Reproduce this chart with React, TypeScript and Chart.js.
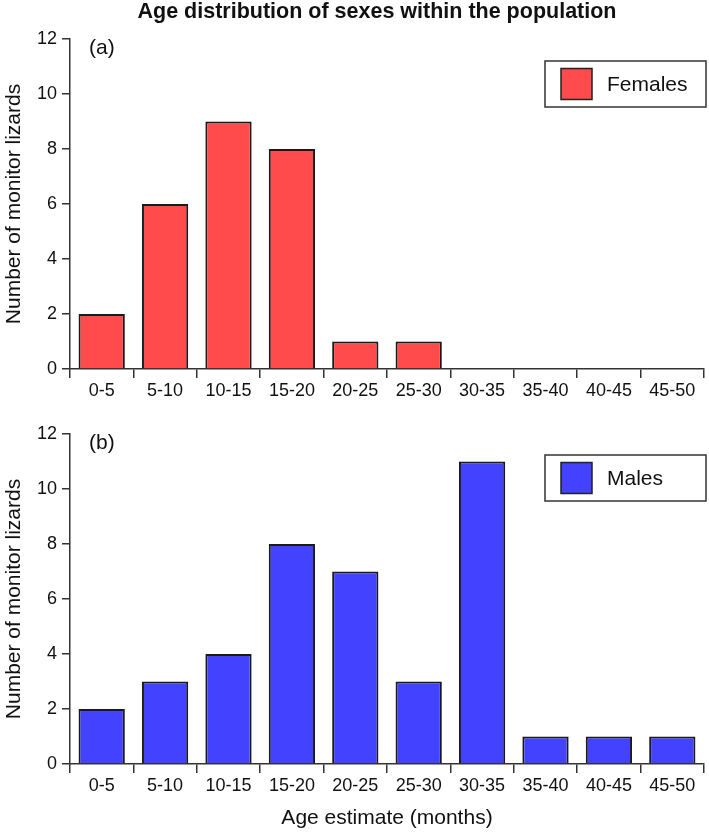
import React, { useEffect, useRef } from "react";
import { Chart, registerables } from "chart.js";

Chart.register(...registerables);

const categories = ["0-5", "5-10", "10-15", "15-20", "20-25", "25-30", "30-35", "35-40", "40-45", "45-50"];
const females = [2, 6, 9, 8, 1, 1, 0, 0, 0, 0];
const males = [2, 3, 4, 8, 7, 3, 11, 1, 1, 1];
const yTicks = [0, 2, 4, 6, 8, 10, 12];
const mainTitle = "Age distribution of sexes within the population";
const yTitle = "Number of monitor lizards";
const xTitle = "Age estimate (months)";

const FONT = "'Liberation Sans', Arial, Helvetica, sans-serif";
const AXIS = "#333";

const overlayPlugin = {
  id: "overlay",
  afterDraw(chart: any, _args: any, opts: any) {
    const { ctx, chartArea } = chart;
    ctx.save();
    // panel label
    ctx.fillStyle = "#111";
    ctx.font = `21px ${FONT}`;
    ctx.textBaseline = "middle";
    ctx.textAlign = "left";
    ctx.fillText(opts.panel, chartArea.left + 19, chartArea.top + opts.panelDy);
    // legend
    const ds = chart.data.datasets[0];
    const bw = 161, bh = 46;
    const bx = chartArea.right + 2 - bw;
    const by = chartArea.top + opts.legendDy;
    ctx.fillStyle = "#fff";
    ctx.fillRect(bx, by, bw, bh);
    ctx.strokeStyle = AXIS;
    ctx.lineWidth = 1.5;
    ctx.strokeRect(bx, by, bw, bh);
    ctx.fillStyle = ds.backgroundColor;
    ctx.fillRect(bx + 16, by + 7.5, 31, 31);
    ctx.strokeStyle = "#222";
    ctx.lineWidth = 1.5;
    ctx.strokeRect(bx + 16, by + 7.5, 31, 31);
    ctx.fillStyle = "#111";
    ctx.font = `21px ${FONT}`;
    ctx.fillText(ds.label, bx + 62, by + bh / 2 + 1);
    // main title
    if (opts.title) {
      ctx.font = `bold 21.5px ${FONT}`;
      ctx.textAlign = "center";
      ctx.fillText(opts.title, 377, 12.5);
    }
    ctx.restore();
  },
};

function makeConfig(data: number[], label: string, color: string, opts: any): any {
  return {
    type: "bar",
    data: {
      labels: categories,
      datasets: [
        {
          label,
          data,
          backgroundColor: color,
          borderColor: "#1a1a1a",
          borderWidth: 2,
          barPercentage: 0.73,
          categoryPercentage: 1,
        },
      ],
    },
    plugins: [overlayPlugin],
    options: {
      responsive: false,
      animation: false,
      devicePixelRatio: 1,
      layout: { padding: { top: opts.padTop, right: 5, left: 0, bottom: 0 } },
      plugins: {
        legend: { display: false },
        tooltip: { enabled: false },
        title: { display: false },
        overlay: { panel: opts.panel, panelDy: opts.panelDy, legendDy: opts.legendDy, title: opts.title },
      },
      scales: {
        x: {
          type: "category",
          offset: true,
          grid: {
            offset: true,
            drawOnChartArea: false,
            drawTicks: true,
            tickLength: 9,
            color: AXIS,
            lineWidth: 1.5,
          },
          border: { display: true, color: AXIS, width: 1.5 },
          ticks: { color: "#111", font: { family: FONT, size: 18 }, padding: 2, maxRotation: 0, autoSkip: false },
          title: {
            display: !!opts.xTitle,
            text: opts.xTitle || "",
            color: "#111",
            font: { family: FONT, size: 21 },
            padding: { top: 0, bottom: 1 },
          },
          afterFit: (s: any) => {
            s.height = opts.xHeight;
          },
        },
        y: {
          min: 0,
          max: 12,
          afterBuildTicks: (s: any) => {
            s.ticks = yTicks.map((v) => ({ value: v }));
          },
          grid: {
            drawOnChartArea: false,
            drawTicks: true,
            tickLength: 8,
            color: AXIS,
            lineWidth: 1.5,
          },
          border: { display: true, color: AXIS, width: 1.5 },
          ticks: { color: "#111", font: { family: FONT, size: 18 }, padding: 5 },
          title: {
            display: true,
            text: yTitle,
            color: "#111",
            font: { family: FONT, size: 21 },
            padding: { top: 2, bottom: 2 },
          },
          afterFit: (s: any) => {
            s.width = 70;
          },
        },
      },
    },
  };
}

export default function App() {
  const topRef = useRef<HTMLCanvasElement>(null);
  const botRef = useRef<HTMLCanvasElement>(null);

  useEffect(() => {
    const c1 = new Chart(
      topRef.current!,
      makeConfig(females, "Females", "rgb(255,75,75)", {
        padTop: 39,
        xHeight: 41,
        panel: "(a)",
        panelDy: 9,
        legendDy: 22,
        title: mainTitle,
      })
    );
    const c2 = new Chart(
      botRef.current!,
      makeConfig(males, "Males", "rgb(66,66,255)", {
        padTop: 24,
        xHeight: 68,
        panel: "(b)",
        panelDy: 9,
        legendDy: 21,
        xTitle,
      })
    );
    return () => {
      c1.destroy();
      c2.destroy();
    };
  }, []);

  return (
    <div style={{ position: "absolute", left: 0, top: 0, width: 709, height: 832, background: "#fff" }}>
      <canvas ref={topRef} width={709} height={410} style={{ display: "block", width: 709, height: 410 }} />
      <canvas ref={botRef} width={709} height={422} style={{ display: "block", width: 709, height: 422 }} />
    </div>
  );
}
